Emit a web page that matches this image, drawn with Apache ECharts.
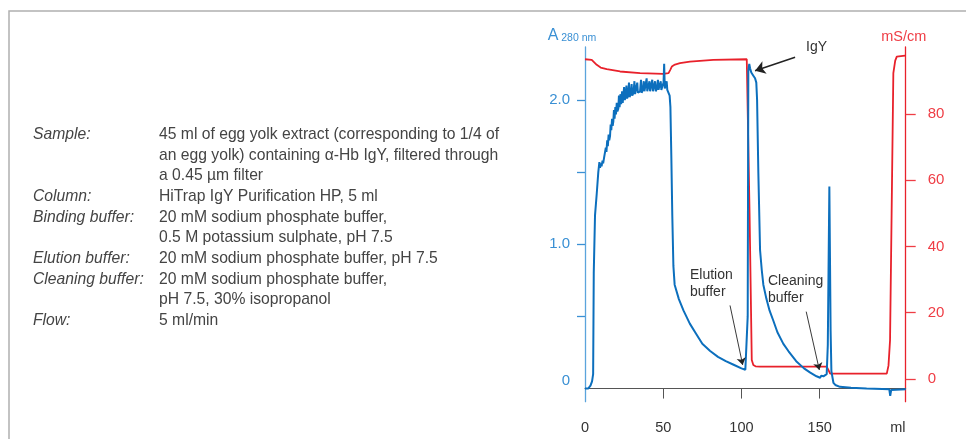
<!DOCTYPE html>
<html>
<head>
<meta charset="utf-8">
<script src="https://cdn.jsdelivr.net/npm/echarts@6/dist/echarts.min.js"></script>
<style>
  html, body { margin: 0; padding: 0; background: #fff; }
  #chart { width: 966px; height: 439px; }
</style>
</head>
<body>
<div id="chart"></div>
<script>
// A280 trace (ml, absorbance)
const absorbance = [
  [0, 0.0], [2, 0.0], [3.5, 0.02], [4.5, 0.05], [5.2, 0.1], [5.6, 0.8], [6.4, 1.2], [7.5, 1.35], [8.5, 1.5],
  [9.2, 1.57], [9.6, 1.53], [10.2, 1.56], [10.6, 1.54], [11.2, 1.58], [11.6, 1.56], [12.2, 1.6], [12.8, 1.6],
  [13.3, 1.67], [13.7, 1.64], [14.2, 1.72], [14.6, 1.68], [15.1, 1.76], [15.5, 1.72], [16, 1.75], [16.4, 1.83],
  [16.8, 1.79], [17.3, 1.87], [17.7, 1.82], [18.1, 1.85], [18.5, 1.93], [18.9, 1.87], [19.4, 1.95], [19.8, 1.9],
  [20.3, 1.98], [20.7, 1.92], [21.3, 1.94], [21.7, 2.03], [22.1, 1.95], [22.7, 2.04], [23.1, 1.97], [23.7, 2.06],
  [24.1, 1.98], [24.5, 1.99], [25, 2.09], [25.4, 2.0], [26, 2.02], [26.5, 2.1], [26.9, 2.01], [27.6, 2.03],
  [28.1, 2.12], [28.5, 2.02], [29.2, 2.04], [29.8, 2.11], [30.2, 2.03], [31, 2.05], [31.6, 2.13], [32, 2.04],
  [32.8, 2.05], [33.4, 2.12], [33.8, 2.05], [34.6, 2.06], [35.2, 2.06], [35.8, 2.14], [36.2, 2.05], [37, 2.07],
  [37.6, 2.13], [38, 2.06], [38.8, 2.07], [39.4, 2.15], [39.8, 2.06], [40.6, 2.07], [41.2, 2.13], [41.6, 2.06],
  [42.4, 2.07], [43, 2.14], [43.4, 2.06], [44.2, 2.07], [44.8, 2.13], [45.2, 2.06], [46, 2.08], [46.6, 2.14],
  [47, 2.07], [47.8, 2.08], [48.4, 2.13], [48.8, 2.07], [49.6, 2.08], [50.2, 2.12], [50.6, 2.25], [51, 2.08],
  [51.6, 2.09], [52.2, 2.13], [52.6, 2.07], [53.4, 2.08], [54.1, 2.03], [54.6, 1.95], [55.2, 1.6], [55.8, 1.2],
  [56.5, 0.85], [57.3, 0.72], [60, 0.62], [63, 0.54], [67, 0.45], [71, 0.38], [75, 0.31], [80, 0.26], [85, 0.22],
  [90, 0.19], [95, 0.165], [100, 0.14], [102.5, 0.13], [103.4, 0.14], [104, 0.5], [104.4, 2.2], [105, 2.25],
  [105.5, 2.22], [106.3, 2.19], [107.5, 2.17], [108.7, 2.15], [109.5, 2.12], [110, 2.0], [110.8, 1.5],
  [111.9, 0.96], [113, 0.82], [114, 0.72], [116, 0.62], [118, 0.54], [120.4, 0.47], [123, 0.39], [126.8, 0.31],
  [130, 0.26], [135, 0.19], [140, 0.14], [144, 0.11], [148, 0.085], [150.3, 0.075], [151, 0.09], [151.6, 0.1],
  [152.4, 0.085], [153, 0.09], [154.5, 0.1], [155.2, 0.3], [156.2, 1.4], [157, 0.4], [157.5, 0.12], [158.8, 0.04],
  [160, 0.025], [163, 0.012], [170, 0.005], [180, 0.0], [190, -0.003], [194.5, -0.005], [195.1, -0.05],
  [195.7, -0.01], [196.5, -0.005], [205, -0.005]
];

// conductivity trace (ml, mS/cm)
const conductivity = [
  [0, 96.6], [4.3, 96.4], [5.5, 95.8], [7.5, 94.9], [10, 94.1], [13.9, 93.6], [22.4, 92.9], [35.2, 92.4],
  [50.1, 92.2], [53.4, 92.4], [54.5, 93.4], [55.5, 94.4], [57.5, 95.0], [60.7, 95.4], [67.1, 95.9], [82, 96.4],
  [103.4, 96.6], [104.4, 96.2], [105.2, 50], [106.6, 5.7], [107.6, 4.2], [109, 3.8], [111.9, 3.7], [154.5, 3.7],
  [155.5, 2.8], [156.7, 1.6], [192.9, 1.6], [194, 4], [195, 11.7], [196, 50], [197.1, 92.4], [198.3, 96.2],
  [199.3, 97.4], [204.6, 97.7]
];

const xLabels = [0, 50, 100, 150, 200];
const xTicks = [50, 100, 150];
const leftLabels = [0, 1, 2];
const leftTicks = [0.5, 1, 1.5, 2];
const rightValues = [0, 20, 40, 60, 80];

// annotation arrows: [tail, head] in (ml, A280)
const arrows = [
  [[134.3, 2.296], [108.7, 2.203]],
  [[92.7, 0.576], [100.8, 0.164]],
  [[141.4, 0.533], [149.8, 0.129]]
];

const conditions = [
  ["Sample:", ["45 ml of egg yolk extract (corresponding to 1/4 of", "an egg yolk) containing \u03b1-Hb IgY, filtered through", "a 0.45 \u00b5m filter"]],
  ["Column:", ["HiTrap IgY Purification HP, 5 ml"]],
  ["Binding buffer:", ["20 mM sodium phosphate buffer,", "0.5 M potassium sulphate, pH 7.5"]],
  ["Elution buffer:", ["20 mM sodium phosphate buffer, pH 7.5"]],
  ["Cleaning buffer:", ["20 mM sodium phosphate buffer,", "pH 7.5, 30% isopropanol"]],
  ["Flow:", ["5 ml/min"]]
];

const BLUE = "#0c6fbd";
const BLUE_AX = "#3a90d4";
const RED = "#e8212b";
const RED_AX = "#ef3d45";
const FONT = "Liberation Sans";

const chart = echarts.init(document.getElementById("chart"));

// conditions text block
const graphics = [];
let row = 0;
for (const [label, lines] of conditions) {
  graphics.push({
    type: "text", left: 33, top: 126.5 + row * 20.7,
    style: { text: label, fontFamily: FONT, fontStyle: "italic", fontSize: 15.7, fill: "#444" }
  });
  for (const line of lines) {
    graphics.push({
      type: "text", left: 159, top: 126.5 + row * 20.7,
      style: { text: line, fontFamily: FONT, fontSize: 15.7, fill: "#444" }
    });
    row++;
  }
}
// frame
graphics.push({
  type: "polyline", silent: true,
  shape: { points: [[9, 439], [9, 11], [966, 11]] },
  style: { stroke: "#b0b0b0", lineWidth: 1.5, fill: null }
});
// annotation labels
const annStyle = { fontFamily: FONT, fontSize: 14, fill: "#333", lineHeight: 17 };
graphics.push({ type: "text", left: 806, top: 39, style: Object.assign({ text: "IgY" }, annStyle) });
graphics.push({ type: "text", left: 690, top: 267, style: Object.assign({ text: "Elution\nbuffer" }, annStyle) });
graphics.push({ type: "text", left: 768, top: 273, style: Object.assign({ text: "Cleaning\nbuffer" }, annStyle) });

const option = {
  backgroundColor: "#ffffff",
  animation: false,
  grid: { left: 585, right: 60.3, top: 47, bottom: 37.3, containLabel: false },
  xAxis: {
    type: "value", min: 0, max: 205,
    axisLine: { show: true, lineStyle: { color: "#555", width: 1 } },
    axisTick: { show: true, length: 10, customValues: xTicks, lineStyle: { color: "#555" } },
    axisLabel: {
      customValues: xLabels, margin: 19, color: "#333", fontFamily: FONT, fontSize: 14.5,
      formatter: v => (v === 200 ? "ml" : String(v))
    },
    splitLine: { show: false }
  },
  yAxis: [
    {
      type: "value", min: -0.091, max: 2.367, position: "left",
      name: "{a|A}{b| 280 nm}", nameLocation: "end", nameGap: 3,
      nameTextStyle: {
        padding: [0, 26, 0, 0],
        rich: {
          a: { fontFamily: FONT, fontSize: 16, color: BLUE_AX },
          b: { fontFamily: FONT, fontSize: 10.5, color: BLUE_AX, padding: [4, 0, 0, 0] }
        }
      },
      axisLine: { show: true, lineStyle: { color: "#5ba4dc", width: 1.3 } },
      axisTick: { show: true, length: 8, customValues: leftTicks, lineStyle: { color: BLUE_AX, width: 1.3 } },
      axisLabel: {
        customValues: leftLabels, margin: 15, color: BLUE_AX, fontFamily: FONT, fontSize: 15,
        formatter: v => (v === 0 ? "{z|0}" : v.toFixed(1)),
        rich: { z: { fontFamily: FONT, fontSize: 15, color: BLUE_AX, padding: [0, 0, 15, 0] } }
      },
      splitLine: { show: false }
    },
    {
      type: "value", min: -6.9, max: 100.3, position: "right",
      name: "mS/cm", nameLocation: "end", nameGap: 3,
      nameTextStyle: { fontFamily: FONT, fontSize: 14.5, color: RED_AX, padding: [0, 4, 0, 0] },
      axisLine: { show: true, lineStyle: { color: RED, width: 1.3 } },
      axisTick: { show: true, length: 10, customValues: rightValues, lineStyle: { color: RED_AX, width: 1.3 } },
      axisLabel: { customValues: rightValues, margin: 22, color: RED_AX, fontFamily: FONT, fontSize: 15 },
      splitLine: { show: false }
    }
  ],
  series: [
    {
      name: "mS/cm", type: "line", yAxisIndex: 1, data: conductivity,
      showSymbol: false, silent: true,
      lineStyle: { color: RED, width: 1.8 }
    },
    {
      name: "A280", type: "line", yAxisIndex: 0, data: absorbance,
      showSymbol: false, silent: true,
      lineStyle: { color: BLUE, width: 2 },
      markLine: {
        silent: true, symbol: ["none", "arrow"], symbolSize: 8,
        label: { show: false },
        lineStyle: { color: "#222", width: 1, type: "solid" },
        data: arrows.map((a, i) => [
          { coord: a[0], lineStyle: { width: i === 0 ? 1.5 : 0.9 } },
          { coord: a[1], symbolSize: i === 0 ? 10 : 7 }
        ])
      }
    }
  ],
  graphic: graphics
};

chart.setOption(option);
</script>
</body>
</html>
